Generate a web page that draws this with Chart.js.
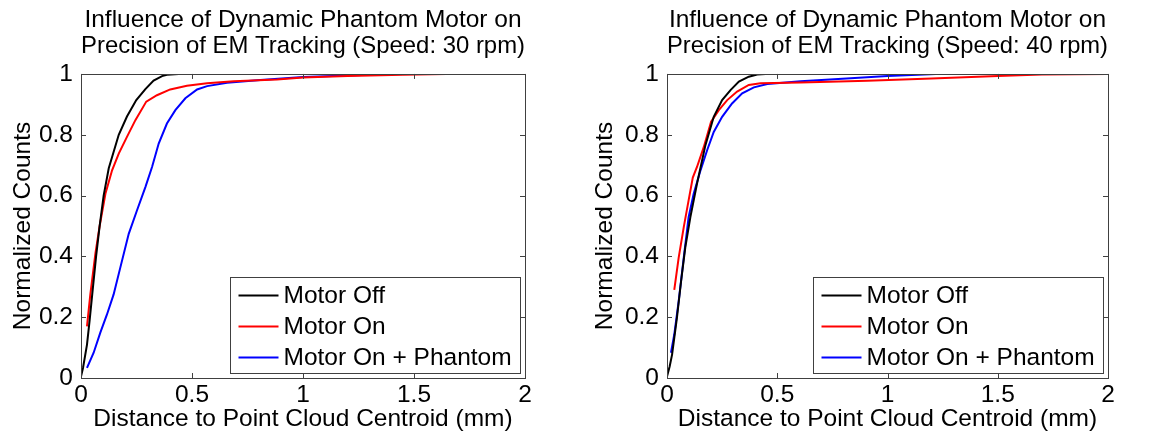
<!DOCTYPE html>
<html>
<head>
<meta charset="utf-8">
<script src="https://cdn.jsdelivr.net/npm/chart.js@4.4.1/dist/chart.umd.min.js"></script>
<style>
  html, body { margin: 0; padding: 0; background: #fff; }
  #stage { position: relative; width: 1165px; height: 434px; }
  #stage canvas { position: absolute; top: 0; }
</style>
</head>
<body>
<div id="stage">
  <canvas id="c30" width="582" height="434" style="left:0"></canvas>
  <canvas id="c40" width="583" height="434" style="left:582px"></canvas>
</div>
<script>
// ── data ───────────────────────────────────────────────────────────────────────

var seriesNames = ["Motor Off", "Motor On", "Motor On + Phantom"];
var seriesColors = ["#000000", "#ff0000", "#0000ff"];

var xTicks = [0, 0.5, 1, 1.5, 2];
var yTicks = [0, 0.2, 0.4, 0.6, 0.8, 1];

// 30 rpm
var off30X = [0, 0.009, 0.027, 0.039, 0.054, 0.068, 0.084, 0.102, 0.125, 0.17, 0.207, 0.249, 0.29, 0.327, 0.365, 0.387, 0.44];
var off30Y = [0.005, 0.033, 0.11, 0.19, 0.3, 0.4, 0.5, 0.6, 0.69, 0.8, 0.86, 0.914, 0.95, 0.978, 0.993, 0.997, 1.0];

var on30X = [0.027, 0.042, 0.065, 0.084, 0.11, 0.14, 0.17, 0.207, 0.245, 0.294, 0.342, 0.402, 0.477, 0.568, 0.688, 0.883, 1.0, 1.2, 1.45, 1.645];
var on30Y = [0.17, 0.275, 0.41, 0.5, 0.606, 0.683, 0.738, 0.793, 0.848, 0.909, 0.93, 0.949, 0.961, 0.969, 0.976, 0.982, 0.988, 0.993, 0.997, 1.0];

var ph30X = [0.027, 0.057, 0.087, 0.117, 0.147, 0.177, 0.215, 0.252, 0.29, 0.32, 0.35, 0.387, 0.425, 0.47, 0.523, 0.568, 0.658, 0.808, 1.0, 1.2, 1.4];
var ph30Y = [0.033, 0.083, 0.149, 0.209, 0.275, 0.363, 0.474, 0.551, 0.628, 0.694, 0.771, 0.837, 0.881, 0.92, 0.949, 0.96, 0.971, 0.98, 0.99, 0.995, 1.0];

// 40 rpm
var off40X = [0, 0.012, 0.023, 0.045, 0.064, 0.083, 0.106, 0.136, 0.174, 0.212, 0.25, 0.288, 0.326, 0.371, 0.409, 0.447];
var off40Y = [0.005, 0.038, 0.077, 0.198, 0.319, 0.43, 0.529, 0.639, 0.765, 0.859, 0.914, 0.947, 0.975, 0.991, 0.998, 1.0];

var on40X = [0.033, 0.053, 0.076, 0.098, 0.117, 0.136, 0.167, 0.2, 0.235, 0.273, 0.318, 0.371, 0.424, 0.606, 0.909, 1.2, 1.5, 1.7, 2.0];
var on40Y = [0.29, 0.396, 0.496, 0.584, 0.659, 0.694, 0.76, 0.843, 0.881, 0.914, 0.942, 0.964, 0.969, 0.972, 0.978, 0.985, 0.993, 0.998, 1.0];

var ph40X = [0.018, 0.033, 0.053, 0.076, 0.098, 0.121, 0.152, 0.182, 0.212, 0.25, 0.295, 0.341, 0.394, 0.455, 0.606, 0.833, 1.0, 1.22];
var ph40Y = [0.083, 0.143, 0.253, 0.396, 0.529, 0.606, 0.683, 0.749, 0.809, 0.859, 0.903, 0.936, 0.956, 0.967, 0.976, 0.986, 0.993, 1.0];

// ── helpers ───────────────────────────────────────────────────────────────────

var FONT = "'Liberation Sans', Arial, Helvetica, sans-serif";
var FONT_SIZE = 24.5;
var TICK_LEN = 5;

Chart.defaults.font.family = FONT;
Chart.defaults.color = "#000";
Chart.defaults.animation = false;

function pairs(xs, ys) {
  return xs.map(function(x, i) { return { x: x, y: ys[i] }; });
}

function strokeLine(ctx, x1, y1, x2, y2) {
  ctx.beginPath();
  ctx.moveTo(x1, y1);
  ctx.lineTo(x2, y2);
  ctx.stroke();
}

function fixedTicks(list) {
  return function(s) { s.ticks = list.map(function(v) { return { value: v }; }); };
}

// matlab style axes box with ticks pointing inwards on all four sides
var axesBox = {
  id: "axesBox",
  afterDatasetsDraw: function(chart) {
    var ctx = chart.ctx, a = chart.chartArea;
    var xs = chart.scales.x, ys = chart.scales.y;
    ctx.save();
    ctx.strokeStyle = "#404040";
    ctx.lineWidth = 1;
    ctx.strokeRect(Math.round(a.left) + 0.5, Math.round(a.top) + 0.5,
                   Math.round(a.right - a.left), Math.round(a.bottom - a.top));
    xTicks.forEach(function(v) {
      var px = Math.round(xs.getPixelForValue(v)) + 0.5;
      strokeLine(ctx, px, a.bottom, px, a.bottom - TICK_LEN);
      strokeLine(ctx, px, a.top, px, a.top + TICK_LEN);
    });
    yTicks.forEach(function(v) {
      var py = Math.round(ys.getPixelForValue(v)) + 0.5;
      strokeLine(ctx, a.left, py, a.left + TICK_LEN, py);
      strokeLine(ctx, a.right, py, a.right - TICK_LEN, py);
    });
    ctx.restore();
  }
};

// legend box in the lower right corner of the axes
var boxLegend = {
  id: "boxLegend",
  afterDraw: function(chart) {
    var ctx = chart.ctx, a = chart.chartArea;
    var w = 290, h = 96;
    var bx = Math.round(a.right - 5 - w) + 0.5;
    var by = Math.round(a.bottom - 5 - h) + 0.5;
    ctx.save();
    ctx.fillStyle = "#fff";
    ctx.fillRect(bx, by, w, h);
    ctx.strokeStyle = "#404040";
    ctx.lineWidth = 1;
    ctx.strokeRect(bx, by, w, h);
    ctx.font = FONT_SIZE + "px " + FONT;
    ctx.textBaseline = "middle";
    ctx.fillStyle = "#000";
    chart.data.datasets.forEach(function(ds, i) {
      var rowY = by + 18 + i * 31;
      ctx.strokeStyle = ds.borderColor;
      ctx.lineWidth = 2;
      strokeLine(ctx, bx + 8, rowY, bx + 48, rowY);
      ctx.fillText(ds.label, bx + 53, rowY + 1);
    });
    ctx.restore();
  }
};

function makeChart(canvasId, speed, xsList, ysList, yAxisW, rightPad) {
  var datasets = seriesNames.map(function(name, i) {
    return {
      label: name,
      data: pairs(xsList[i], ysList[i]),
      borderColor: seriesColors[i],
      backgroundColor: seriesColors[i],
      borderWidth: 2,
      pointRadius: 0,
      showLine: true,
      tension: 0
    };
  });

  return new Chart(document.getElementById(canvasId), {
    type: "scatter",
    data: { datasets: datasets },
    options: {
      responsive: false,
      devicePixelRatio: 1,
      layout: { padding: { left: 0, right: rightPad, top: 0, bottom: 0 } },
      plugins: {
        legend: { display: false },
        tooltip: { enabled: false },
        title: {
          display: true,
          fullSize: false,
          text: ["Influence of Dynamic Phantom Motor on",
                 "Precision of EM Tracking (Speed: " + speed + " rpm)"],
          color: "#000",
          font: { size: FONT_SIZE, weight: "normal", lineHeight: 1.06 },
          padding: { top: 7, bottom: 15 }
        }
      },
      scales: {
        x: {
          type: "linear",
          min: 0, max: 2,
          afterFit: function(s) { s.height = 56; },
          afterBuildTicks: fixedTicks(xTicks),
          ticks: {
            color: "#000", font: { size: FONT_SIZE }, padding: 3, maxRotation: 0,
            callback: function(v) { return String(v); }
          },
          grid: { display: false, drawTicks: false },
          border: { display: false },
          title: {
            display: true,
            text: "Distance to Point Cloud Centroid (mm)",
            color: "#000",
            font: { size: FONT_SIZE, lineHeight: 1.2 },
            padding: { top: 0, bottom: 0 }
          }
        },
        y: {
          type: "linear",
          min: 0, max: 1,
          afterFit: function(s) { s.width = yAxisW; },
          afterBuildTicks: fixedTicks(yTicks),
          ticks: {
            color: "#000", font: { size: FONT_SIZE }, padding: 8,
            callback: function(v) { return String(v); }
          },
          grid: { display: false, drawTicks: false },
          border: { display: false },
          title: {
            display: true,
            text: "Normalized Counts",
            color: "#000",
            font: { size: FONT_SIZE, lineHeight: 1.2 },
            padding: { top: 9, bottom: 0 }
          }
        }
      }
    },
    plugins: [axesBox, boxLegend]
  });
}

// ── init ──────────────────────────────────────────────────────────────────────

makeChart("c30", 30, [off30X, on30X, ph30X], [off30Y, on30Y, ph30Y], 81, 57);
makeChart("c40", 40, [off40X, on40X, ph40X], [off40Y, on40Y, ph40Y], 85, 57);
</script>
</body>
</html>
